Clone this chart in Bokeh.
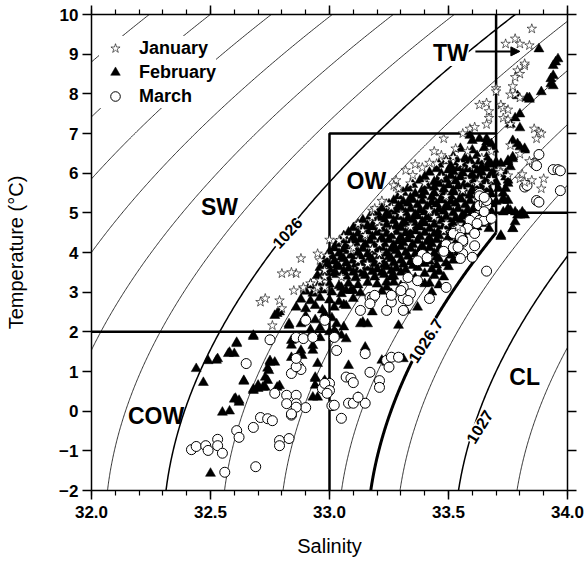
import math
import numpy as np
from bokeh.plotting import figure
from bokeh.models import (Range1d, LinearAxis, FixedTicker, Label, Arrow, NormalHead,
                          Legend, LegendItem, NumeralTickFormatter)
from bokeh.embed import file_html
from bokeh.resources import INLINE

# ---------------- data ----------------
jan_sal = [32.88, 32.95, 32.96, 32.99, 32.80, 32.86, 32.85, 32.89, 32.71, 32.73, 32.79, 32.80, 32.76,
           32.92, 32.94, 32.84, 32.98, 32.98, 33.09, 33.14, 33.15, 33.24, 33.26, 33.30, 33.28, 33.34,
           33.18, 33.20, 33.21, 33.12, 33.13, 33.05, 33.48, 33.47, 33.45, 33.32, 33.28, 33.27, 33.29,
           33.18, 33.19, 33.09, 33.10, 33.21, 33.21, 33.16, 33.36, 33.39, 33.42, 33.40, 33.47, 33.49,
           33.58, 33.49, 33.54, 33.42, 33.44, 33.30, 33.34, 33.26, 33.18, 33.21, 33.85, 33.74, 33.78,
           33.80, 33.84, 33.82, 33.79, 33.80, 33.78, 33.77, 33.76, 33.78, 33.80, 33.70, 33.63, 33.66,
           33.67, 33.67, 33.66, 33.72, 33.73, 33.75, 33.73, 33.75, 33.76, 33.86, 33.88, 33.89, 33.87,
           33.59, 33.61, 33.71, 33.72, 33.75, 33.80, 33.82, 33.85, 33.90, 33.89, 33.63, 33.59, 33.70,
           33.82, 33.56, 33.81, 33.62, 33.68, 33.66, 33.49, 33.52, 33.55, 33.48, 33.00, 33.06, 33.12,
           33.22, 33.35, 33.44, 33.53, 33.58, 33.64, 33.68, 33.76, 33.80, 33.84, 33.56, 32.96, 32.95,
           32.89, 32.98, 33.04]
jan_temp = [3.85, 3.97, 3.80, 3.92, 3.47, 3.47, 3.04, 3.09, 2.75, 2.84, 2.79, 2.59, 2.16,
            3.22, 3.04, 3.50, 3.55, 3.38, 4.05, 4.55, 4.43, 5.23, 5.14, 5.49, 5.65, 5.74,
            4.89, 4.76, 4.64, 3.80, 3.63, 3.38, 6.87, 6.45, 6.24, 6.07, 5.82, 5.69, 5.61,
            5.05, 5.11, 4.20, 4.12, 3.97, 3.80, 3.71, 6.22, 6.14, 6.26, 5.74, 5.90, 5.41,
            5.82, 4.73, 4.64, 5.05, 4.89, 4.97, 4.64, 4.55, 4.09, 4.22, 9.64, 9.26, 9.39,
            9.26, 9.22, 8.71, 8.59, 8.50, 8.42, 8.19, 7.98, 7.98, 7.90, 8.14, 7.72, 7.77,
            7.56, 7.39, 7.23, 7.72, 7.64, 7.60, 7.39, 7.35, 7.23, 7.12, 7.04, 7.00, 6.87,
            7.12, 7.16, 6.07, 6.03, 5.94, 5.86, 5.77, 5.82, 5.86, 5.61, 5.82, 6.20, 8.06,
            8.76, 7.00, 5.97, 5.74, 5.84, 5.69, 6.32, 6.40, 6.24, 4.55, 4.32, 4.40, 4.72,
            5.30, 5.95, 6.55, 6.62, 6.55, 6.38, 6.55, 6.70, 6.48, 6.30, 5.56, 3.29, 3.12,
            3.12, 3.12, 4.30]

feb_sal = [
    # sparse, cold and fresh side
    32.83, 32.68, 32.61, 32.575, 32.525, 32.44, 32.47, 32.64, 32.75, 32.74, 32.73, 32.70, 32.68,
    32.72, 32.78, 32.605, 32.62, 32.58, 32.55, 32.50, 32.78, 32.79, 32.84, 32.84, 32.885, 32.93,
    32.95, 32.94, 32.975, 32.93, 32.49, 32.53, 32.58, 32.60, 32.61, 32.68, 32.64, 32.60, 32.62,
    32.68, 32.70, 32.74, 32.73, 32.79, 32.75, 32.77, 32.745, 32.77, 32.83,
    # around S = 33.0 - 33.5, T < 3
    33.43, 33.40, 33.37, 33.29, 33.32, 33.14, 33.16, 33.13, 33.18, 33.15, 33.06, 33.05, 33.07,
    33.08, 33.22, 33.24, 33.31, 33.12, 32.98, 33.00, 33.07, 33.10, 33.05, 33.07, 33.02, 33.03,
    33.26, 33.27, 33.24, 33.24, 32.94, 32.94, 32.95, 32.84, 32.88, 32.93, 32.92, 32.96, 33.02,
    32.90, 32.94, 32.98, 33.01, 32.96, 33.00, 32.88, 32.92, 33.03,
    # dense band
    32.86, 32.90, 32.94, 32.97, 33.02, 33.06,
    32.88, 32.92, 32.96, 33.00, 33.04, 33.10,
    32.90, 32.93, 32.97, 33.01, 33.05, 33.09, 33.13, 33.22, 33.26,
    32.92, 32.96, 33.00, 33.04, 33.08, 33.12, 33.16, 33.20, 33.30, 33.42, 33.46,
    32.95, 32.99, 33.03, 33.07, 33.11, 33.15, 33.19, 33.23, 33.27, 33.36, 33.44, 33.48,
    32.96, 33.00, 33.04, 33.08, 33.12, 33.16, 33.20, 33.24, 33.28, 33.32, 33.37, 33.43, 33.50,
    32.98, 33.02, 33.06, 33.10, 33.14, 33.18, 33.22, 33.26, 33.30, 33.34, 33.38, 33.42, 33.46, 33.52,
    33.00, 33.04, 33.08, 33.12, 33.16, 33.20, 33.24, 33.28, 33.32, 33.36, 33.40, 33.44, 33.50, 33.54,
    33.03, 33.07, 33.11, 33.15, 33.19, 33.23, 33.27, 33.31, 33.35, 33.39, 33.43, 33.47, 33.53,
    33.06, 33.10, 33.14, 33.18, 33.22, 33.26, 33.30, 33.34, 33.38, 33.42, 33.46, 33.50, 33.56,
    33.10, 33.14, 33.18, 33.22, 33.26, 33.30, 33.34, 33.38, 33.42, 33.46, 33.50, 33.54, 33.62, 33.67,
    33.14, 33.19, 33.23, 33.27, 33.31, 33.35, 33.39, 33.43, 33.47, 33.51, 33.55, 33.66,
    33.20, 33.24, 33.28, 33.32, 33.36, 33.40, 33.44, 33.48, 33.52, 33.56, 33.60, 33.64, 33.68,
    33.25, 33.29, 33.33, 33.37, 33.41, 33.45, 33.49, 33.53, 33.57, 33.61, 33.68,
    33.29, 33.34, 33.39, 33.43, 33.47, 33.51, 33.55, 33.59, 33.63, 33.66,
    33.33, 33.39, 33.44, 33.48, 33.52, 33.56, 33.60, 33.64, 33.67,
    33.38, 33.44, 33.49, 33.53, 33.57, 33.61, 33.65, 33.69,
    33.42, 33.47, 33.52, 33.56, 33.60, 33.64, 33.68,
    33.46, 33.51, 33.56, 33.60, 33.64, 33.68,
    33.52, 33.57, 33.62, 33.66,
    33.55, 33.60, 33.65, 33.69,
    33.60, 33.66, 33.59, 33.63, 33.66, 33.68,
    # core of the band, between the rows above
    32.98, 33.02, 33.06, 33.10, 33.14, 33.18, 33.22, 33.26, 33.30, 33.40, 33.46,
    32.99, 33.03, 33.07, 33.11, 33.15, 33.19, 33.23, 33.27, 33.31, 33.35, 33.40, 33.45, 33.49,
    33.01, 33.05, 33.09, 33.13, 33.17, 33.21, 33.25, 33.29, 33.33, 33.37, 33.41, 33.45, 33.51,
    33.02, 33.06, 33.10, 33.14, 33.18, 33.22, 33.26, 33.30, 33.34, 33.38, 33.42, 33.46, 33.52,
    33.05, 33.09, 33.13, 33.17, 33.21, 33.25, 33.29, 33.33, 33.37, 33.41, 33.45, 33.49, 33.55,
    33.08, 33.12, 33.16, 33.20, 33.24, 33.28, 33.32, 33.36, 33.40, 33.44, 33.48, 33.52, 33.58,
    33.12, 33.16, 33.20, 33.24, 33.28, 33.32, 33.36, 33.40, 33.44, 33.48, 33.52, 33.57, 33.64,
    33.17, 33.21, 33.25, 33.29, 33.33, 33.37, 33.41, 33.45, 33.49, 33.53, 33.57, 33.61, 33.67,
    33.22, 33.26, 33.30, 33.34, 33.38, 33.42, 33.46, 33.50, 33.54, 33.58, 33.62, 33.66,
    33.27, 33.31, 33.35, 33.39, 33.43, 33.47, 33.51, 33.55, 33.59, 33.63, 33.67,
    33.31, 33.36, 33.40, 33.44, 33.48, 33.52, 33.56, 33.60, 33.64, 33.68,
    33.35, 33.41, 33.46, 33.50, 33.54, 33.58, 33.62, 33.66,
    33.40, 33.46, 33.51, 33.55, 33.59, 33.63, 33.67,
    33.45, 33.50, 33.54, 33.58, 33.62, 33.66,
    33.49, 33.54, 33.59, 33.63, 33.67,
    # warm side, S > 33.7
    33.79, 33.83, 33.84, 33.80, 33.78, 33.76, 33.80, 33.77, 33.79, 33.80, 33.82, 33.82,
    33.77, 33.75, 33.76, 33.74, 33.75, 33.74, 33.73, 33.75, 33.79, 33.80, 33.82, 33.78,
    33.77, 33.72, 33.70, 33.69, 33.70, 33.71, 33.70, 33.72, 33.75, 33.77, 33.74, 33.75,
    33.73, 33.73, 33.75, 33.76, 33.78, 33.81, 33.73, 33.77, 33.72,
    33.88, 33.93, 33.94, 33.93, 33.94, 33.95, 33.94, 33.96, 33.84, 33.89]
feb_temp = [
    2.16, 1.88, 1.73, 1.45, 1.28, 1.07, 0.72, 0.75, 1.23, 1.08, 0.85, 0.65, 0.55,
    0.60, 0.60, 0.32, 0.27, 0.00, -0.03, -1.57, 2.46, 2.50, 1.78, 1.35, 1.40, 1.65,
    1.20, 0.85, 0.72, 0.35, 1.27, 1.32, 1.48, 1.45, 1.70, 1.91, 0.77, 0.30, 0.22,
    0.52, 0.57, 0.77, 0.60, 0.64, 1.27, 1.23, 1.02, 2.41, 2.20,
    3.00, 3.21, 2.62, 2.16, 2.54, 2.24, 2.20, 2.20, 2.50, 1.61, 2.12, 1.91, 1.82,
    1.15, 1.28, 1.23, 1.32, 0.35, 0.77, 0.73, 3.04, 3.04, 3.12, 2.66, 2.03, 1.95,
    3.38, 3.25, 3.25, 3.12, 0.82, 0.65, 0.35, 1.66, 1.53, 1.53, 1.90, 1.85, 1.88,
    2.40, 2.30, 2.45, 2.35, 2.10, 2.00, 2.20, 2.05, 2.20,
    2.62, 2.58, 2.66, 2.55, 2.62, 2.68,
    2.82, 2.78, 2.86, 2.80, 2.76, 2.84,
    3.02, 2.97, 3.05, 3.00, 2.96, 3.04, 2.98, 3.02, 2.96,
    3.18, 3.24, 3.20, 3.16, 3.22, 3.18, 3.24, 3.20, 3.16, 3.22, 3.18,
    3.42, 3.38, 3.44, 3.40, 3.36, 3.42, 3.38, 3.44, 3.40, 3.36, 3.42, 3.38,
    3.62, 3.58, 3.64, 3.60, 3.56, 3.62, 3.58, 3.64, 3.60, 3.56, 3.62, 3.58, 3.64,
    3.82, 3.78, 3.84, 3.80, 3.76, 3.82, 3.78, 3.84, 3.80, 3.76, 3.82, 3.78, 3.84, 3.80,
    4.02, 3.98, 4.04, 4.00, 3.96, 4.02, 3.98, 4.04, 4.00, 3.96, 4.02, 3.98, 4.04, 4.00,
    4.22, 4.18, 4.24, 4.20, 4.16, 4.22, 4.18, 4.24, 4.20, 4.16, 4.22, 4.18, 4.24,
    4.42, 4.38, 4.44, 4.40, 4.36, 4.42, 4.38, 4.44, 4.40, 4.36, 4.42, 4.38, 4.44,
    4.62, 4.58, 4.64, 4.60, 4.56, 4.62, 4.58, 4.64, 4.60, 4.56, 4.62, 4.58, 4.64, 4.60,
    4.82, 4.78, 4.84, 4.80, 4.76, 4.82, 4.78, 4.84, 4.80, 4.76, 4.82, 4.78,
    5.02, 4.98, 5.04, 5.00, 4.96, 5.02, 4.98, 5.04, 5.00, 4.96, 5.02, 4.98, 5.04,
    5.22, 5.18, 5.24, 5.20, 5.16, 5.22, 5.18, 5.24, 5.20, 5.16, 5.22,
    5.42, 5.38, 5.44, 5.40, 5.36, 5.42, 5.38, 5.44, 5.40, 5.36,
    5.62, 5.58, 5.64, 5.60, 5.56, 5.62, 5.58, 5.64, 5.60,
    5.82, 5.78, 5.84, 5.80, 5.76, 5.82, 5.78, 5.84,
    6.02, 5.98, 6.04, 6.00, 5.96, 6.02, 5.98,
    6.22, 6.18, 6.24, 6.20, 6.16, 6.22,
    6.42, 6.38, 6.44, 6.40,
    6.62, 6.58, 6.64, 6.60,
    6.82, 6.78, 6.95, 6.87, 6.87, 6.74,
    3.51, 3.48, 3.53, 3.50, 3.47, 3.52, 3.49, 3.54, 3.50, 3.47, 3.52,
    3.71, 3.68, 3.73, 3.70, 3.67, 3.72, 3.69, 3.74, 3.70, 3.67, 3.72, 3.68, 3.73,
    3.91, 3.88, 3.93, 3.90, 3.87, 3.92, 3.89, 3.94, 3.90, 3.87, 3.92, 3.88, 3.93,
    4.11, 4.08, 4.13, 4.10, 4.07, 4.12, 4.09, 4.14, 4.10, 4.07, 4.12, 4.08, 4.13,
    4.31, 4.28, 4.33, 4.30, 4.27, 4.32, 4.29, 4.34, 4.30, 4.27, 4.32, 4.28, 4.33,
    4.51, 4.48, 4.53, 4.50, 4.47, 4.52, 4.49, 4.54, 4.50, 4.47, 4.52, 4.48, 4.53,
    4.71, 4.68, 4.73, 4.70, 4.67, 4.72, 4.69, 4.74, 4.70, 4.67, 4.72, 4.68, 4.73,
    4.91, 4.88, 4.93, 4.90, 4.87, 4.92, 4.89, 4.94, 4.90, 4.87, 4.92, 4.88, 4.93,
    5.11, 5.08, 5.13, 5.10, 5.07, 5.12, 5.09, 5.14, 5.10, 5.07, 5.12, 5.08,
    5.31, 5.28, 5.33, 5.30, 5.27, 5.32, 5.29, 5.34, 5.30, 5.27, 5.32,
    5.51, 5.48, 5.53, 5.50, 5.47, 5.52, 5.49, 5.54, 5.50, 5.47,
    5.71, 5.68, 5.73, 5.70, 5.67, 5.72, 5.69, 5.74,
    5.91, 5.88, 5.93, 5.90, 5.87, 5.92, 5.89,
    6.11, 6.08, 6.13, 6.10, 6.07, 6.12,
    6.31, 6.28, 6.33, 6.30, 6.27,
    7.95, 7.90, 7.86, 7.49, 7.39, 7.23, 7.14, 6.82, 6.74, 6.66, 6.62, 6.58,
    6.41, 6.28, 6.16, 5.99, 5.82, 5.61, 5.36, 5.10, 4.94, 4.94, 4.94, 4.77,
    4.60, 4.43, 6.28, 6.03, 5.78, 5.61, 5.28, 6.24, 6.32, 6.36, 5.90, 5.74,
    5.49, 5.31, 5.31, 5.06, 5.02, 5.02, 5.02, 4.60, 4.40,
    9.13, 8.25, 8.20, 8.38, 8.46, 8.80, 8.71, 8.88, 7.90, 8.05]

mar_sal = [32.75, 32.65, 32.84, 32.87, 32.88, 32.77, 32.82, 32.86, 32.86, 32.82, 32.90, 32.84, 32.71,
           32.74, 32.76, 32.68, 32.61, 32.62, 32.53, 32.53, 32.55, 32.42, 32.44, 32.48, 32.49, 32.56,
           32.69, 32.79, 32.79, 32.83, 32.97, 33.00, 33.01, 32.90, 32.86, 32.89, 32.93, 32.98, 33.02,
           33.60, 33.66, 33.42, 33.33, 33.31, 33.34, 33.30, 33.17, 33.18, 33.26, 33.24, 33.13, 33.31,
           33.03, 33.15, 33.24, 33.26, 33.29, 33.25, 33.17, 33.07, 33.09, 33.10, 33.21, 33.21, 32.98,
           33.00, 32.99, 33.02, 33.08, 33.10, 33.15, 33.12, 33.05, 32.86, 32.84, 32.86, 32.86, 33.19,
           33.17, 33.26, 33.31, 33.88, 33.86, 33.87, 33.94, 33.96, 33.97, 33.97, 33.82, 33.83, 33.87,
           33.88, 33.61, 33.56, 33.63, 33.65, 33.66, 33.61, 33.63, 33.65, 33.59, 33.58, 33.55, 33.52,
           33.61, 33.63, 33.49, 33.52, 33.48, 33.56, 33.55, 33.66, 33.63, 33.65, 33.65, 33.68, 33.62,
           33.39, 33.41, 33.37, 33.30, 33.33, 33.49, 33.55, 33.56, 33.54, 33.37]
mar_temp = [1.80, 1.20, 0.95, 1.13, 1.05, 0.45, 0.40, 0.40, 0.19, 0.19, 0.09, -0.10, -0.16,
            -0.19, -0.24, -0.41, -0.49, -0.66, -0.71, -0.87, -1.06, -0.97, -0.89, -0.87, -0.99, -1.54,
            -1.40, -0.74, -0.87, -0.69, 0.57, 0.70, 0.14, 2.29, 1.86, 1.83, 1.86, 2.29, 1.86,
            3.88, 3.53, 2.84, 3.37, 3.12, 2.96, 3.00, 2.87, 2.84, 2.75, 2.54, 2.54, 2.54,
            1.53, 1.45, 1.28, 1.36, 1.36, 1.11, 0.98, 0.86, 0.83, 0.72, 0.77, 0.60, 0.70,
            0.52, 0.45, 0.15, 0.20, 0.20, 0.20, 0.35, -0.18, 0.10, -0.07, 1.12, 1.33, 2.92,
            2.71, 2.92, 2.84, 6.47, 6.24, 6.19, 6.09, 6.09, 6.06, 5.56, 5.65, 5.69, 5.31,
            5.27, 4.17, 4.26, 5.18, 5.23, 5.18, 4.89, 4.81, 4.81, 4.81, 4.61, 4.55, 4.48,
            4.48, 5.49, 4.20, 4.12, 4.03, 3.97, 3.85, 5.31, 5.43, 5.39, 5.03, 4.86, 4.73,
            3.95, 3.87, 3.79, 3.04, 2.79, 3.12, 4.38, 4.30, 4.13, 3.29]

sal_ticks = [32.0, 32.5, 33.0, 33.5, 34.0]
sal_minor = [round(32 + 0.1 * i, 1) for i in range(21)]
temp_ticks = [-2, -1, 0, 1, 2, 3, 4, 5, 6, 7, 8, 9, 10]
density_levels = [1024.8, 1025.0, 1025.2, 1025.4, 1025.6, 1025.8, 1026.0, 1026.2, 1026.4,
                  1026.6, 1026.8, 1027.0, 1027.2]
boundary_level = 1026.7

FONT = "Liberation Sans"


def rho(S, T):
    # UNESCO (1980) equation of state at the sea surface
    rw = (999.842594 + 6.793952e-2 * T - 9.095290e-3 * T ** 2 + 1.001685e-4 * T ** 3
          - 1.120083e-6 * T ** 4 + 6.536332e-9 * T ** 5)
    b = 8.24493e-1 - 4.0899e-3 * T + 7.6438e-5 * T ** 2 - 8.2467e-7 * T ** 3 + 5.3875e-9 * T ** 4
    c = -5.72466e-3 + 1.0227e-4 * T - 1.6546e-6 * T ** 2
    return rw + b * S + c * S ** 1.5 + 4.8314e-4 * S ** 2


def isopycnal(level, temps):
    lo = np.full_like(temps, 28.0)
    hi = np.full_like(temps, 38.0)
    for _ in range(60):
        mid = 0.5 * (lo + hi)
        big = rho(mid, temps) > level
        hi = np.where(big, mid, hi)
        lo = np.where(big, lo, mid)
    return 0.5 * (lo + hi)


p = figure(width=586, height=562, x_range=Range1d(32, 34), y_range=Range1d(-2, 10),
           output_backend="svg", toolbar_location=None,
           min_border_left=91, min_border_right=19, min_border_top=14, min_border_bottom=72)
p.xgrid.visible = False
p.ygrid.visible = False
p.outline_line_color = None

temps = np.linspace(-2.5, 10.5, 400)
for lev in density_levels:
    sal = isopycnal(lev, temps)
    w = 1.5 if lev in (1026.0, 1027.0) else 0.8
    p.line(sal, temps, line_color="black", line_width=w)

# water-mass boundaries
bt = np.linspace(-2.0, 4.7, 200)
bs = isopycnal(boundary_level, bt)
keep = bs <= 33.7
p.line(bs[keep], bt[keep], line_color="black", line_width=3)
p.line([32.0, 33.0], [2, 2], line_color="black", line_width=2.5)
p.line([33.0, 33.0, 33.7], [-2, 7, 7], line_color="black", line_width=2.5)
p.line([33.7, 33.7], [bt[keep][-1], 10], line_color="black", line_width=2.5)
p.line([33.7, 34.0], [5, 5], line_color="black", line_width=2.5)

r_feb = p.scatter(feb_sal, feb_temp, marker="triangle", size=10, fill_color="black",
                  line_color="black", line_width=0.5)
r_mar = p.scatter(mar_sal, mar_temp, marker="circle", size=10, fill_color="white",
                  line_color="black", line_width=1)
r_jan = p.scatter(jan_sal, jan_temp, marker="star", size=10, fill_color="white",
                  line_color="black", line_width=0.6)

# contour labels
for txt, x, y, ang in [("1026", 32.822, 4.50, 47), ("1026.7", 33.403, 1.78, 57), ("1027", 33.63, -0.39, 58)]:
    p.add_layout(Label(x=x, y=y, text=txt, angle=math.radians(ang), text_align="center",
                       text_baseline="middle", text_font=FONT, text_font_style="bold",
                       text_font_size="16px", text_color="black", background_fill_color="white"))

# water mass labels
for txt, x, y in [("SW", 32.538, 5.15), ("OW", 33.155, 5.81), ("COW", 32.271, -0.13),
                  ("CL", 33.82, 0.86), ("TW", 33.51, 9.03)]:
    p.add_layout(Label(x=x, y=y, text=txt, text_align="center", text_baseline="middle",
                       text_font=FONT, text_font_style="bold", text_font_size="23px",
                       text_color="black",
                       background_fill_color="white" if txt == "TW" else None))

p.add_layout(Arrow(end=NormalHead(size=9, fill_color="black", line_color="black"),
                   x_start=33.613, y_start=9.07, x_end=33.80, y_end=9.07, line_width=2))

# axes
xa = p.xaxis[0]
xa.ticker = FixedTicker(ticks=sal_ticks, minor_ticks=sal_minor)
xa.formatter = NumeralTickFormatter(format="0.0")
ya = p.yaxis[0]
ya.ticker = FixedTicker(ticks=temp_ticks, minor_ticks=[])
for ax in (xa, ya):
    ax.major_label_text_font = FONT
    ax.major_label_text_font_style = "bold"
    ax.major_label_text_font_size = "17px"
    ax.major_label_text_color = "black"
    ax.axis_label_text_font = FONT
    ax.axis_label_text_font_style = "normal"
    ax.axis_label_text_font_size = "20px"
    ax.axis_label_text_color = "black"
    ax.axis_line_width = 1.5
    ax.major_tick_line_width = 1.5
    ax.minor_tick_line_width = 1.2
    ax.major_tick_in = 0
    ax.major_tick_out = 9
    ax.minor_tick_in = 0
    ax.minor_tick_out = 5
xa.axis_label = "Salinity"
xa.major_label_standoff = 6
xa.axis_label_standoff = 14
ya.axis_label = "Temperature (°C)"
ya.major_label_standoff = 4
ya.axis_label_standoff = 29

top = LinearAxis(ticker=FixedTicker(ticks=sal_ticks, minor_ticks=sal_minor),
                 major_label_text_font_size="1px", major_label_text_color=None,
                 major_label_standoff=0,
                 major_tick_in=0, major_tick_out=9, minor_tick_in=0, minor_tick_out=5,
                 axis_line_width=1.5, major_tick_line_width=1.5, minor_tick_line_width=1.2)
p.add_layout(top, "above")
right = LinearAxis(ticker=FixedTicker(ticks=temp_ticks, minor_ticks=[]),
                   major_label_text_font_size="1px", major_label_text_color=None,
                   major_label_standoff=0,
                   major_tick_in=0, major_tick_out=9, minor_tick_in=0, minor_tick_out=0,
                   axis_line_width=1.5, major_tick_line_width=1.5)
p.add_layout(right, "right")

legend = Legend(items=[LegendItem(label="January", renderers=[r_jan]),
                       LegendItem(label="February", renderers=[r_feb]),
                       LegendItem(label="March", renderers=[r_mar])],
                location=(8, 382), glyph_width=32, glyph_height=24, spacing=0,
                padding=0, margin=0, label_standoff=8, border_line_color=None,
                background_fill_color="white", background_fill_alpha=1.0,
                label_text_font=FONT, label_text_font_style="bold", label_text_font_size="18px",
                label_text_color="black", label_height=20)
p.add_layout(legend)

open("out.html", "w").write(file_html(p, INLINE))
